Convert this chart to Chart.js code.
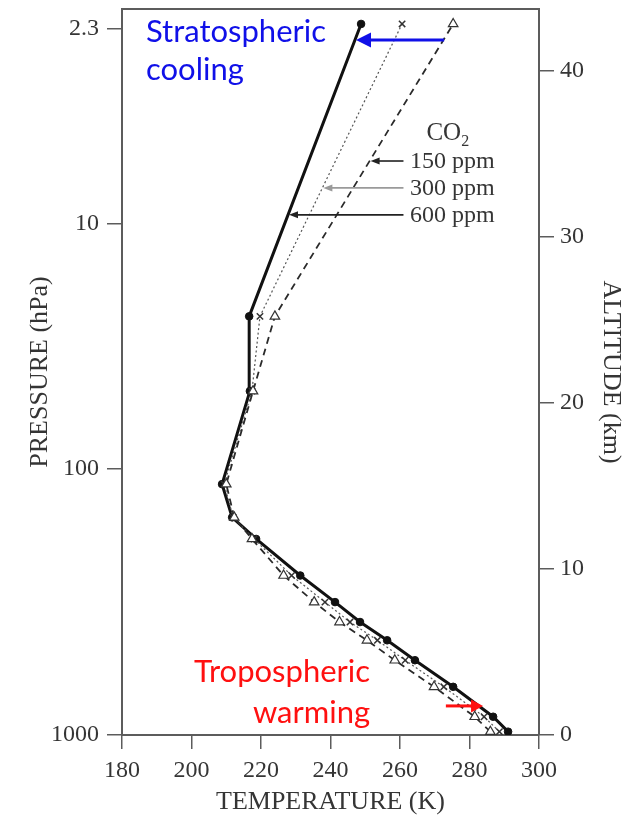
<!DOCTYPE html>
<html>
<head>
<meta charset="utf-8">
<script src="https://cdn.jsdelivr.net/npm/chart.js@4.4.0/dist/chart.umd.min.js"></script>
<style>
  html, body { margin: 0; padding: 0; background: #fff; }
</style>
</head>
<body>
<canvas id="profile" width="634" height="820"></canvas>
<script>
// model levels (km), shared by the three CO2 runs
var levelsKm = [0.2, 1.1, 2.9, 4.5, 5.7, 6.8, 8.0, 9.6, 11.8, 13.1, 15.1, 20.7, 25.2, 42.8];
// temperature (K) at each level
var temp150 = [286.0, 281.5, 269.8, 258.5, 250.5, 242.6, 235.3, 226.5, 217.4, 212.3, 210.0, 217.7, 224.0, 275.3];
var temp300 = [288.6, 284.2, 272.6, 261.5, 253.5, 245.6, 238.4, 228.8, 218.0, 212.0, 209.4, 217.4, 219.7, 260.6];
var temp600 = [291.1, 286.8, 275.3, 264.3, 256.3, 248.5, 241.3, 231.3, 218.6, 211.7, 208.8, 216.8, 216.6, 248.8];
var seriesNames = ["150 ppm", "300 ppm", "600 ppm"];

// left axis: pressure labels and the altitude (km) where they sit
var pressureLabels = ["1000", "100", "10", "2.3"];
var pressureKm = [0, 16.0, 30.8, 42.5];

var SERIF = "'Liberation Serif', 'Times New Roman', serif";
var SANS = "Lato, 'Liberation Sans', sans-serif";
var INK = "#353535";
var AXIS = "#5c5c5c";

function pts(temps) {
  return temps.map(function (t, i) { return { x: t, y: levelsKm[i] }; });
}

// linear interpolation of a profile at a given altitude
function tempAt(temps, z) {
  for (var i = 0; i < levelsKm.length - 1; i++) {
    if (z >= levelsKm[i] && z <= levelsKm[i + 1]) {
      var f = (z - levelsKm[i]) / (levelsKm[i + 1] - levelsKm[i]);
      return temps[i] + f * (temps[i + 1] - temps[i]);
    }
  }
  return temps[temps.length - 1];
}

function arrow(ctx, x1, y1, x2, y2, color, lw, len, half) {
  var a = Math.atan2(y2 - y1, x2 - x1);
  ctx.save();
  ctx.strokeStyle = color;
  ctx.fillStyle = color;
  ctx.lineWidth = lw;
  ctx.beginPath();
  ctx.moveTo(x1, y1);
  ctx.lineTo(x2 - Math.cos(a) * len * 0.8, y2 - Math.sin(a) * len * 0.8);
  ctx.stroke();
  ctx.beginPath();
  ctx.moveTo(x2, y2);
  ctx.lineTo(x2 - Math.cos(a) * len - Math.sin(a) * half, y2 - Math.sin(a) * len + Math.cos(a) * half);
  ctx.lineTo(x2 - Math.cos(a) * len + Math.sin(a) * half, y2 - Math.sin(a) * len - Math.cos(a) * half);
  ctx.closePath();
  ctx.fill();
  ctx.restore();
}

var notes = {
  id: "notes",
  afterDatasetsDraw: function (chart) {
    var ctx = chart.ctx, area = chart.chartArea;
    var xs = chart.scales.x, ys = chart.scales.y;
    var px = function (v) { return xs.getPixelForValue(v); };
    var py = function (v) { return ys.getPixelForValue(v); };

    // top edge of the frame
    ctx.save();
    ctx.strokeStyle = AXIS;
    ctx.lineWidth = 2;
    ctx.beginPath();
    ctx.moveTo(area.left - 1, area.top);
    ctx.lineTo(area.right + 1, area.top);
    ctx.stroke();
    ctx.restore();

    // CO2 key with arrows to each curve
    ctx.save();
    ctx.fillStyle = INK;
    ctx.textBaseline = "alphabetic";
    ctx.textAlign = "left";
    ctx.font = "25px " + SERIF;
    ctx.fillText("CO", px(267.6), py(35.82));
    var w = ctx.measureText("CO").width;
    ctx.font = "16px " + SERIF;
    ctx.fillText("2", px(267.6) + w, py(35.82) + 6);
    ctx.font = "24px " + SERIF;
    var keyRows = [
      { name: seriesNames[0], base: 34.14, at: 34.55, temps: temp150, color: "#222" },
      { name: seriesNames[1], base: 32.51, at: 32.93, temps: temp300, color: "#9a9a9a" },
      { name: seriesNames[2], base: 30.89, at: 31.31, temps: temp600, color: "#222" }
    ];
    keyRows.forEach(function (r) {
      ctx.fillStyle = INK;
      ctx.fillText(r.name, px(262.9), py(r.base));
      arrow(ctx, px(261), py(r.at), px(tempAt(r.temps, r.at)) + 1, py(r.at), r.color, 1.6, 9, 3.5);
    });
    ctx.restore();

    // stratospheric cooling
    ctx.save();
    ctx.font = "31px " + SANS;
    ctx.fillStyle = "#1010e8";
    ctx.textAlign = "left";
    ctx.fillText("Stratospheric", px(186.9), py(41.72));
    ctx.fillText("cooling", px(186.9), py(39.43));
    arrow(ctx, px(272.7), py(41.84), px(tempAt(temp600, 41.84)) + 1, py(41.84), "#1010e8", 3, 15, 7.5);

    // tropospheric warming
    ctx.fillStyle = "#ff1010";
    ctx.textAlign = "right";
    ctx.fillText("Tropospheric", px(251.4), py(3.19));
    ctx.fillText("warming", px(251.4), py(0.72));
    arrow(ctx, px(273.2), py(1.75), px(283.9), py(1.75), "#ff1010", 3, 12, 6.5);
    ctx.restore();
  }
};

var tickFont = { family: SERIF, size: 24 };
var titleFont = { family: SERIF, size: 26 };

new Chart(document.getElementById("profile").getContext("2d"), {
  type: "scatter",
  data: {
    datasets: [
      {
        label: seriesNames[0],
        data: pts(temp150),
        showLine: true,
        borderColor: "#2a2a2a",
        borderWidth: 1.8,
        borderDash: [7, 5],
        pointStyle: "triangle",
        pointRadius: 5.5,
        pointBackgroundColor: "#fff",
        pointBorderColor: "#333",
        pointBorderWidth: 1.2
      },
      {
        label: seriesNames[1],
        data: pts(temp300),
        showLine: true,
        borderColor: "#555",
        borderWidth: 1.2,
        borderDash: [2, 2.5],
        pointStyle: "crossRot",
        pointRadius: 4.5,
        pointBorderColor: "#333",
        pointBorderWidth: 1.5
      },
      {
        label: seriesNames[2],
        data: pts(temp600),
        showLine: true,
        borderColor: "#111",
        borderWidth: 3,
        pointStyle: "circle",
        pointRadius: 3.8,
        pointBackgroundColor: "#111",
        pointBorderColor: "#111",
        pointBorderWidth: 1
      }
    ]
  },
  options: {
    responsive: false,
    animation: false,
    devicePixelRatio: 1,
    layout: { padding: { top: 9, left: 0, right: 0, bottom: 0 } },
    plugins: {
      legend: { display: false },
      tooltip: { enabled: false }
    },
    scales: {
      x: {
        type: "linear",
        position: "bottom",
        min: 180,
        max: 300,
        ticks: { stepSize: 20, font: tickFont, color: INK, padding: 7, maxRotation: 0 },
        grid: { drawOnChartArea: false, tickLength: 14, color: AXIS, lineWidth: 1.5 },
        border: { color: AXIS, width: 2 },
        title: { display: true, text: "TEMPERATURE (K)", font: titleFont, color: INK, padding: { top: 0, bottom: 2 } },
        afterFit: function (s) { s.height = 85; s.paddingLeft = 0; s.paddingRight = 0; }
      },
      yP: {
        type: "linear",
        position: "left",
        min: 0,
        max: 43.7,
        afterBuildTicks: function (s) {
          s.ticks = pressureKm.map(function (v) { return { value: v }; });
        },
        ticks: {
          font: tickFont,
          color: INK,
          padding: 8,
          callback: function (v, i) { return pressureLabels[i]; }
        },
        grid: { drawOnChartArea: false, tickLength: 15, color: AXIS, lineWidth: 1.5 },
        border: { color: AXIS, width: 2 },
        title: { display: true, text: "PRESSURE (hPa)", font: titleFont, color: INK, padding: { top: 25, bottom: 0 } },
        afterFit: function (s) { s.width = 122; s.paddingTop = 0; s.paddingBottom = 0; }
      },
      y: {
        type: "linear",
        position: "right",
        min: 0,
        max: 43.7,
        ticks: { stepSize: 10, includeBounds: false, font: tickFont, color: INK, padding: 6 },
        grid: { drawOnChartArea: false, tickLength: 15, color: AXIS, lineWidth: 1.5 },
        border: { color: AXIS, width: 2 },
        title: { display: true, text: "ALTITUDE (km)", font: titleFont, color: INK, padding: { top: 8, bottom: 0 } },
        afterFit: function (s) { s.width = 95; s.paddingTop = 0; s.paddingBottom = 0; }
      }
    }
  },
  plugins: [notes]
});
</script>
</body>
</html>
